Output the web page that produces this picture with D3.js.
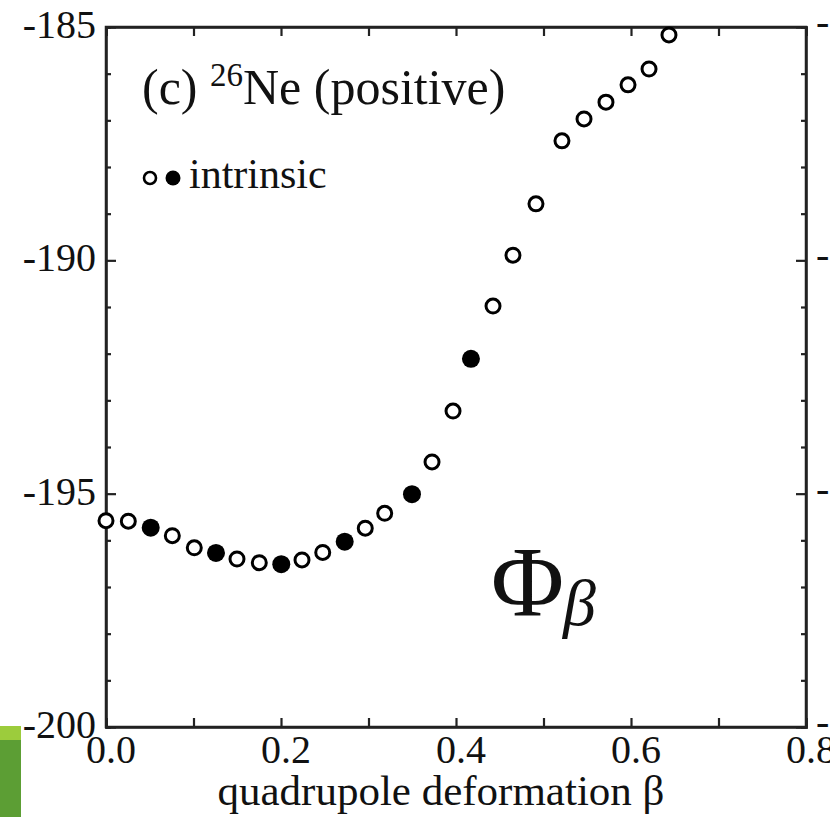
<!DOCTYPE html>
<html><head><meta charset="utf-8">
<script src="https://cdn.jsdelivr.net/npm/d3@7"></script>
<style>html,body{margin:0;padding:0;background:#fff;}svg{display:block;}</style>
</head><body>
<script>
const beta = [0.000,0.0255,0.0511,0.0758,0.1009,0.1257,0.1497,0.1752,0.2003,0.2240,0.2477,0.2728,0.2963,0.3185,0.3497,0.3726,0.3966,0.4171,0.4423,0.4651,0.4914,0.5211,0.5463,0.5714,0.5966,0.6206,0.6434];
const energy = [-195.58,-195.59,-195.73,-195.90,-196.16,-196.27,-196.40,-196.48,-196.51,-196.42,-196.26,-196.03,-195.74,-195.42,-195.01,-194.32,-193.23,-192.11,-190.98,-189.89,-188.79,-187.44,-186.97,-186.61,-186.24,-185.90,-185.17];
const intrinsic = [0,0,1,0,0,1,0,0,1,0,0,1,0,0,1,0,0,1,0,0,0,0,0,0,0,0,0];
const xTickLabels = ["0.0","0.2","0.4","0.6","0.8"];
const yTickLabels = ["-185","-190","-195","-200"];

const W=830,H=817;
const svg=d3.select("body").append("svg").attr("width",W).attr("height",H);
const L=106,R=806,T=27,B=727;
const x=d3.scaleLinear().domain([0,0.8]).range([L,R]);
const y=d3.scaleLinear().domain([-200,-185]).range([B,T]);
const font="'Liberation Serif','Times New Roman',serif";

// green artifact bottom-left
svg.append("rect").attr("x",0).attr("y",726).attr("width",21).attr("height",14).attr("fill","#9ccc3c");
svg.append("rect").attr("x",0).attr("y",740).attr("width",21).attr("height",77).attr("fill","#5c9e34");

const g=svg.append("g");
const xMinor=d3.range(0,9).map(i=>i/10);
const yMinor=d3.range(0,16).map(i=>-200+i);
const xb=g.append("g").attr("transform",`translate(0,${B})`)
 .call(d3.axisBottom(x).tickValues(xMinor).tickSize(-9).tickFormat(""));
const xt=g.append("g").attr("transform",`translate(0,${T})`)
 .call(d3.axisTop(x).tickValues(xMinor).tickSize(-9).tickFormat(""));
const yl=g.append("g").attr("transform",`translate(${L},0)`)
 .call(d3.axisLeft(y).tickValues(yMinor).tickSize(-5).tickFormat(""));
const yr=g.append("g").attr("transform",`translate(${R},0)`)
 .call(d3.axisRight(y).tickValues(yMinor).tickSize(-5).tickFormat(""));
[xb,xt,yl,yr].forEach(a=>{a.selectAll("path.domain").attr("stroke","#222").attr("stroke-width",2.5);
 a.selectAll("line").attr("stroke","#222").attr("stroke-width",2.2);});
yl.selectAll(".tick").filter(d=>d%5===0).select("line").attr("x2",10);
yr.selectAll(".tick").filter(d=>d%5===0).select("line").attr("x2",-10);
g.append("rect").attr("x",L).attr("y",T).attr("width",R-L).attr("height",B-T).attr("fill","none").attr("stroke","#222").attr("stroke-width",2.5);

// tick labels
g.selectAll("text.xl").data(xTickLabels).enter().append("text")
 .attr("x",d=>x(+d)+5).attr("y",763).attr("text-anchor","middle")
 .attr("font-family",font).attr("font-size",40).attr("fill","#111").text(d=>d);
g.selectAll("text.yl").data(yTickLabels).enter().append("text")
 .attr("x",96).attr("y",d=>y(+d)+11).attr("text-anchor","end")
 .attr("font-family",font).attr("font-size",40).attr("fill","#111").text(d=>d);
// neighbouring panel labels cut off at right edge
g.selectAll("text.yr").data(yTickLabels).enter().append("text")
 .attr("x",816).attr("y",d=>y(+d)+8).attr("text-anchor","start")
 .attr("font-family",font).attr("font-size",40).attr("fill","#111").text(d=>d);

// axis title
g.append("text").attr("x",441).attr("y",805).attr("text-anchor","middle")
 .attr("font-family",font).attr("font-size",43).attr("fill","#111").text("quadrupole deformation β");

// panel label
const t=g.append("text").attr("x",142).attr("y",104).attr("font-family",font).attr("font-size",50).attr("fill","#111");
t.append("tspan").text("(c) ");
t.append("tspan").attr("font-size",33).attr("dy",-18).text("26");
t.append("tspan").attr("dy",18).text("Ne (positive)");

// legend
g.append("circle").attr("cx",150).attr("cy",178).attr("r",6).attr("fill","#fff").attr("stroke","#000").attr("stroke-width",2.6);
g.append("circle").attr("cx",173).attr("cy",178).attr("r",7.5).attr("fill","#000");
g.append("text").attr("x",189).attr("y",188).attr("font-family",font).attr("font-size",42).attr("fill","#111").text("intrinsic");

// Phi_beta
g.append("text").attr("x",491).attr("y",615).attr("font-family",font).attr("font-size",100).attr("fill","#111").text("Φ");
g.append("text").attr("x",563).attr("y",625).attr("font-family",font).attr("font-style","italic").attr("font-size",66).attr("fill","#111").text("β");

// points
const pts=beta.map((b,i)=>({b,e:energy[i],f:intrinsic[i]}));
g.selectAll("circle.pt").data(pts).enter().append("circle")
 .attr("cx",d=>x(d.b)).attr("cy",d=>y(d.e))
 .attr("r",d=>d.f?9:7).attr("fill",d=>d.f?"#000":"#fff")
 .attr("stroke",d=>d.f?"none":"#000").attr("stroke-width",3);
</script>
</body></html>
